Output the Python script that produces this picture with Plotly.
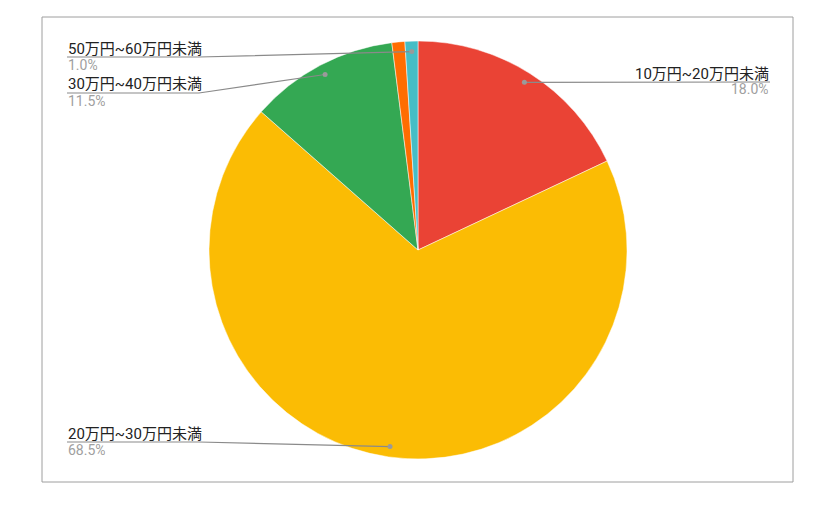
import math
import plotly.graph_objects as go

# Data
categories = ["10万円~20万円未満", "20万円~30万円未満", "30万円~40万円未満", "40万円~50万円未満", "50万円~60万円未満"]
values = [18.0, 68.5, 11.5, 1.0, 1.0]
colors = ["#ea4335", "#fbbc04", "#34a853", "#ff6d01", "#46bdc6"]
labeled = [True, True, True, False, True]

# page has an 8px body margin, so work in page coords shifted by OFF
OFF = 8
W, H = 834 - OFF, 510 - OFF
cx, cy, R = 418 - OFF, 250 - OFF, 209
FONT = "Roboto, Arial, 'Noto Sans CJK JP', sans-serif"

# label placement in page coords: (text x, underline y, side)
label_pos = {
    "10万円~20万円未満": (770, 82, "right"),
    "20万円~30万円未満": (67, 442, "left"),
    "30万円~40万円未満": (67, 93, "left"),
    "50万円~60万円未満": (67, 57, "left"),
}


def px(x):
    return x / W


def py(y):
    return 1 - y / H


fig = go.Figure()

fig.add_trace(go.Pie(
    labels=categories,
    values=values,
    marker=dict(colors=colors, line=dict(color="white", width=0.5)),
    sort=False,
    direction="clockwise",
    rotation=0,
    textinfo="none",
    hoverinfo="label+percent",
    showlegend=False,
    domain=dict(x=[px(cx - R), px(cx + R)], y=[py(cy + R), py(cy - R)]),
))

# leader lines and labels, anchored to each slice's middle angle
total = sum(values)
cum = 0
annotations = []
shapes = [dict(type="rect", xref="paper", yref="paper", x0=px(42 - OFF), y0=py(17 - OFF),
               x1=px(793 - OFF), y1=py(482 - OFF), line=dict(color="#9e9e9e", width=1), layer="below")]
for name, v, show in zip(categories, values, labeled):
    mid = (cum + v / 2) / total * 2 * math.pi
    cum += v
    if not show:
        continue
    dx = cx + 0.95 * R * math.sin(mid)
    dy = cy - 0.95 * R * math.cos(mid)
    tx, ly, side = label_pos[name]
    tx, ly = tx - OFF, ly - OFF
    if side == "right":
        pts = [(dx, dy), (tx, ly)]
    else:
        pts = [(tx, ly), (tx + 132, ly), (dx, dy)]
    path = "M " + " L ".join(f"{px(x):.5f},{py(y):.5f}" for x, y in pts)
    shapes.append(dict(type="path", xref="paper", yref="paper", path=path,
                       line=dict(color="#8a8a8a", width=1.2), layer="above"))
    shapes.append(dict(type="circle", xref="paper", yref="paper",
                       x0=px(dx - 2.5), x1=px(dx + 2.5), y0=py(dy + 2.5), y1=py(dy - 2.5),
                       fillcolor="#9a9a9a", line=dict(width=0), layer="above"))
    anchor = "right" if side == "right" else "left"
    annotations.append(dict(x=px(tx), y=py(ly - 9), text=name, showarrow=False, xanchor=anchor,
                            yanchor="middle", height=15, borderpad=0,
                            font=dict(size=15, color="#222222", family=FONT), xref="paper", yref="paper"))
    annotations.append(dict(x=px(tx), y=py(ly + 7.5), text=f"{v:.1f}%", showarrow=False, xanchor=anchor,
                            yanchor="middle", height=14, borderpad=0,
                            font=dict(size=14, color="#a0a0a0", family=FONT), xref="paper", yref="paper"))

fig.update_layout(
    width=W, height=H,
    margin=dict(l=0, r=0, t=0, b=0),
    paper_bgcolor="white", plot_bgcolor="rgba(0,0,0,0)",
    annotations=annotations,
    shapes=shapes,
)

fig.write_html("out.html")
